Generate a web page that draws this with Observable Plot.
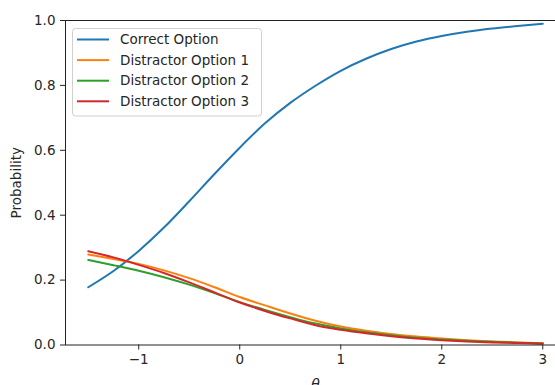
<!DOCTYPE html>
<html><head><meta charset="utf-8">
<script src="https://cdn.jsdelivr.net/npm/d3@7"></script>
<script src="https://cdn.jsdelivr.net/npm/@observablehq/plot@0.6"></script>
<style>body{margin:0;background:#fff} svg{display:block}</style>
</head><body><div id="chart"></div>
<script>
const theta = [-1.5,-1.25,-1.0,-0.75,-0.5,-0.25,0,0.25,0.5,0.75,1.0,1.25,1.5,1.75,2.0,2.25,2.5,2.75,3.0];
const correctOption = [0.178,0.228,0.290,0.362,0.443,0.527,0.608,0.683,0.746,0.799,0.845,0.882,0.912,0.935,0.952,0.965,0.975,0.983,0.990];
const distractor1 = [0.279,0.265,0.250,0.230,0.206,0.178,0.148,0.122,0.097,0.075,0.057,0.044,0.034,0.026,0.020,0.015,0.011,0.008,0.006];
const distractor2 = [0.262,0.246,0.229,0.209,0.186,0.160,0.132,0.108,0.086,0.066,0.051,0.039,0.030,0.022,0.017,0.013,0.010,0.007,0.005];
const distractor3 = [0.289,0.270,0.247,0.222,0.193,0.162,0.131,0.105,0.082,0.061,0.047,0.036,0.027,0.020,0.015,0.011,0.008,0.006,0.004];
const seriesNames = ["Correct Option","Distractor Option 1","Distractor Option 2","Distractor Option 3"];
const seriesColors = ["#1f77b4","#ff7f0e","#2ca02c","#d62728"];
const xTicks = [-1,0,1,2,3];
const yTicks = [0,0.2,0.4,0.6,0.8,1.0];
const xLabel = "θ";
const yLabel = "Probability";

const seriesValues = [correctOption, distractor1, distractor2, distractor3];
const table = seriesNames.flatMap((name,i)=> theta.map((t,j)=>({theta:t, p:seriesValues[i][j], series:name})));

const FONT = "'DejaVu Sans', sans-serif";
const FS = 13.5;

const chart = Plot.plot({
  width: 555, height: 385,
  marginLeft: 65, marginRight: -10, marginTop: 20, marginBottom: 40.5,
  style: {fontFamily: FONT, fontSize: FS + "px", color: "#262626", background: "white"},
  x: {domain: [-1.725, 3.225]},
  y: {domain: [0, 1]},
  color: {domain: seriesNames, range: seriesColors},
  marks: [
    Plot.axisX({ticks: xTicks, tickFormat: d3.format("d"), tickSize: 5, tickPadding: 4, label: null, fontSize: FS}),
    Plot.axisY({ticks: yTicks, tickFormat: ".1f", tickSize: 5, tickPadding: 5, label: yLabel, labelAnchor: "center", labelArrow: "none", labelOffset: 54, fontSize: FS}),
    Plot.line(table, {x: "theta", y: "p", stroke: "series", strokeWidth: 2, curve: "monotone-x"}),
    Plot.frame({stroke: "#222", strokeWidth: 1}),
    Plot.text([xLabel], {frameAnchor: "bottom", text: d => d, dy: 34, lineAnchor: "top", fontStyle: "italic", fontSize: 14, fontFamily: "DejaVu Sans"})
  ]
});
document.getElementById("chart").appendChild(chart);

// legend (drawn in the SVG, matplotlib style)
const svg = d3.select(chart);
const lg = svg.append("g").attr("font-family", FONT).attr("font-size", FS).attr("text-anchor", "start");
lg.append("rect").attr("x", 72.5).attr("y", 28.5).attr("width", 189).attr("height", 87.5)
  .attr("rx", 3).attr("fill", "white").attr("fill-opacity", 0.8).attr("stroke", "#d0d0d0");
seriesNames.forEach((name, i) => {
  const cy = 39.5 + i * 20.6;
  lg.append("line").attr("x1", 77).attr("x2", 109).attr("y1", cy).attr("y2", cy)
    .attr("stroke", seriesColors[i]).attr("stroke-width", 2);
  lg.append("text").attr("x", 120).attr("y", cy).attr("dy", "0.35em").attr("fill", "#262626").text(name);
});
</script></body></html>
